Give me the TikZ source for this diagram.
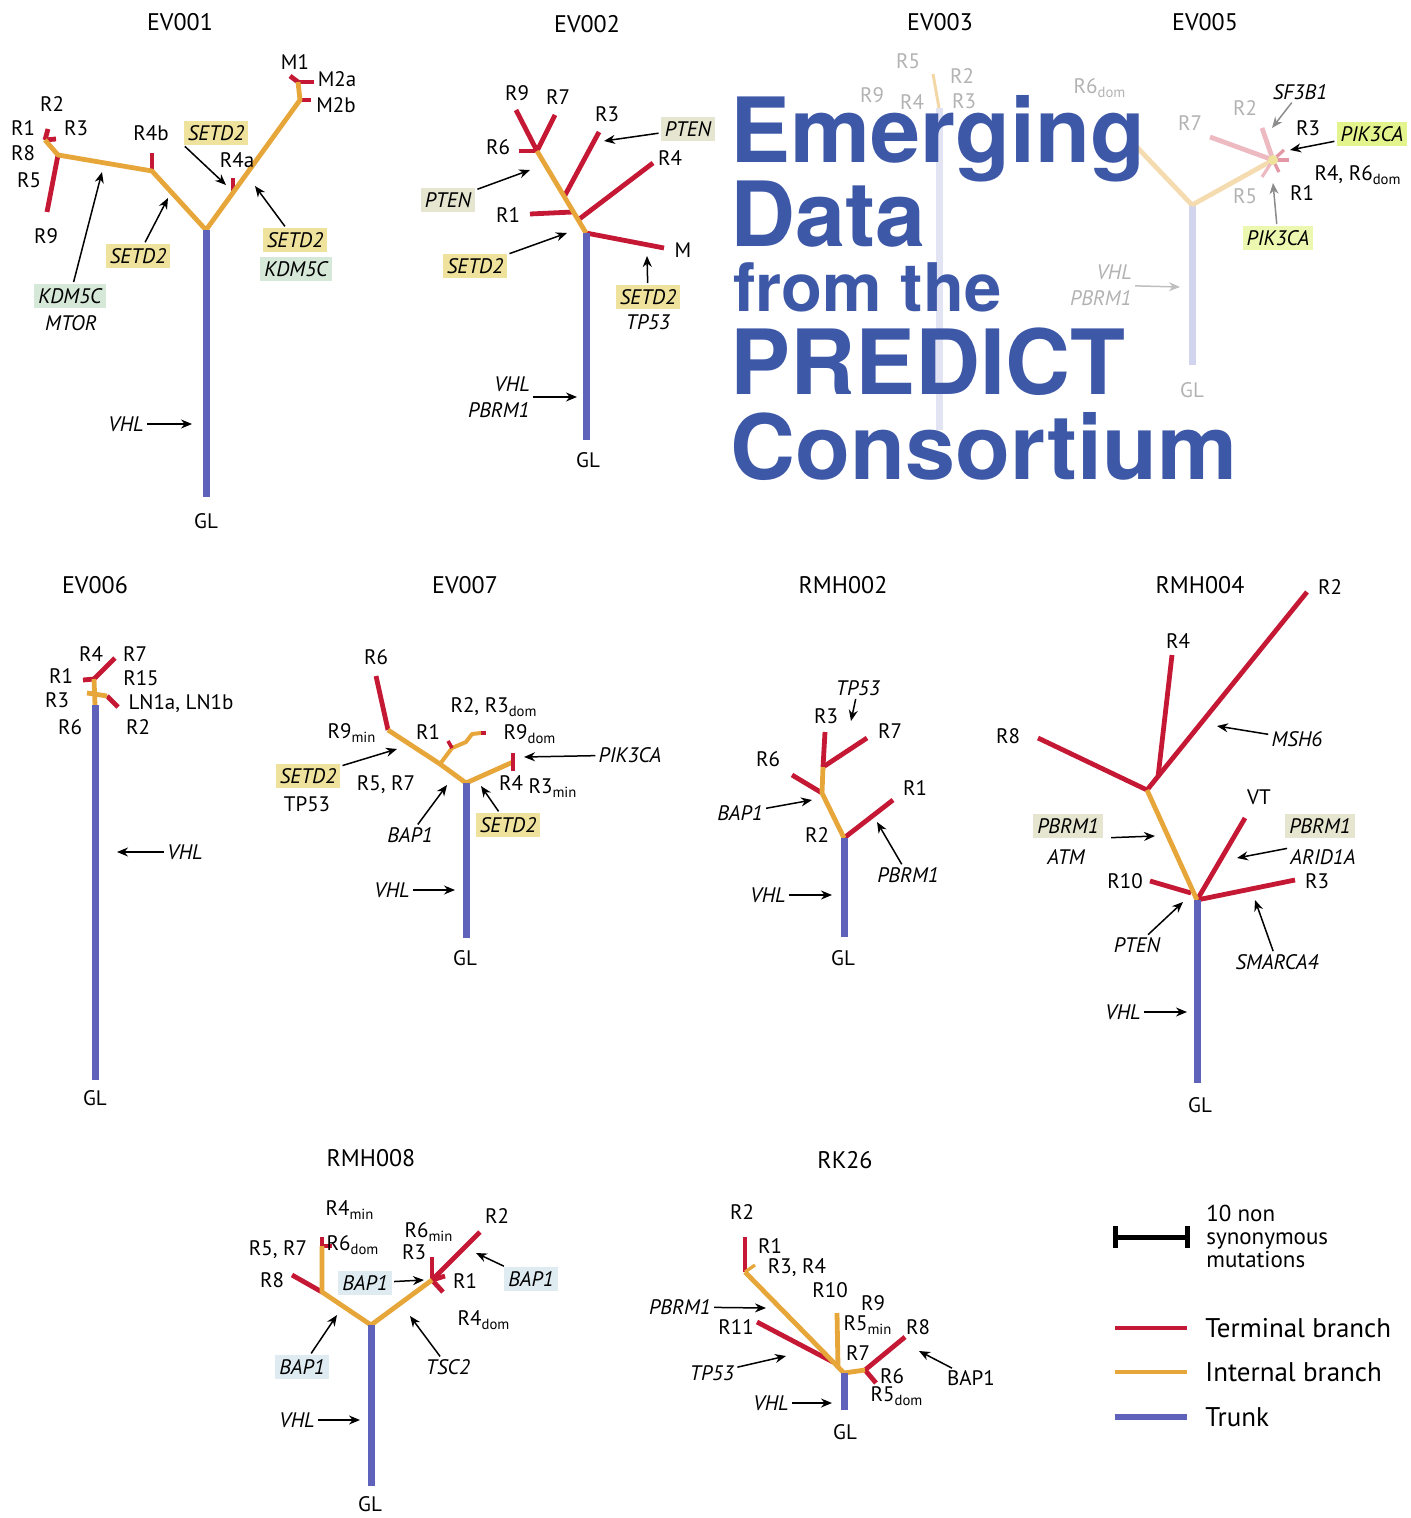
\documentclass[tikz,border=0pt]{standalone}
\usepackage{fontspec}
\setmainfont{PT Sans}
\newfontfamily\titlefont{TeX Gyre Heros}
\usetikzlibrary{arrows.meta}
\definecolor{termred}{RGB}{196,24,52}
\definecolor{intorg}{RGB}{230,166,58}
\definecolor{trunkbl}{RGB}{94,98,186}
\definecolor{titleblue}{RGB}{62,88,168}
\definecolor{hlyel}{RGB}{238,226,156}
\definecolor{hlgrn}{RGB}{214,232,216}
\definecolor{hlgry}{RGB}{230,229,208}
\definecolor{hlblu}{RGB}{222,236,242}
\definecolor{hllime}{RGB}{228,244,140}
\newcommand\lsub[1]{\textsubscript{#1}}
\tikzset{
  term/.style={draw=termred, line width=2.4pt},
  intl/.style={draw=intorg, line width=2.4pt, line join=round},
  trk/.style={draw=trunkbl, line width=3.5pt},
  arr/.style={draw=black, line width=0.75pt, -{Stealth[length=5.5pt,width=4.5pt]}, shorten <=1pt},
  lb/.style={inner sep=0.5pt, font=\fontsize{10.5}{13}\selectfont},
  gn/.style={inner sep=0.5pt, font=\fontsize{10.5}{13}\selectfont\itshape},
  hl/.style={fill=#1, inner sep=2pt},
  ttl/.style={font=\fontsize{12}{14}\selectfont},
  fnt/.style={text=black!30},
  ttxt/.style={anchor=base west, inner sep=0pt, text=titleblue, font=\titlefont\bfseries\fontsize{45}{45}\selectfont},
  lgt/.style={anchor=west, inner sep=0pt, font=\fontsize{13.5}{15}\selectfont},
}
\begin{document}
\begin{tikzpicture}[x=0.5pt,y=-0.5pt]
\path[use as bounding box] (0,0) rectangle (1410,1518);

% ================= EV001
\node[ttl] (a-t) at (180,22) {EV001};
\coordinate (a-r) at (206,230);
\coordinate (a-b) at (206,497);
\coordinate (a-n1) at (152,171);
\coordinate (a-n2) at (58,155);
\coordinate (a-n3) at (45,140);
\coordinate (a-n4) at (300,100);
\coordinate (a-n5) at (298,82);
\coordinate (a-r9) at (47,212);
\coordinate (a-r2) at (48,129);
\coordinate (a-r3) at (56,139);
\coordinate (a-r4b) at (152,153);
\coordinate (a-n6) at (233,193);
\coordinate (a-r4a) at (233,178);
\coordinate (a-m1) at (290,76);
\coordinate (a-m2a) at (314,82);
\coordinate (a-m2b) at (311,100);
\draw[term] (a-n2) -- (a-r9);
\draw[term] (a-n3) -- (a-r2);
\draw[term] (a-n3) -- (a-r3);
\draw[term] (a-n1) -- (a-r4b);
\draw[term] (a-n6) -- (a-r4a);
\draw[term] (a-n5) -- (a-m1);
\draw[term] (a-n5) -- (a-m2a);
\draw[term] (a-n4) -- (a-m2b);
\draw[intl] (a-r) -- (a-n1) -- (a-n2) -- (a-n3);
\draw[intl] (a-r) -- (a-n4) -- (a-n5);
\draw[trk] (a-r) -- (a-b);
\node[lb] (a-lm1) at (295,62) {M1};
\node[lb] (a-lm2a) at (337,79) {M2a};
\node[lb] (a-lm2b) at (336,105) {M2b};
\node[lb] (a-l2) at (52,104) {R2};
\node[lb] (a-l1) at (23,128) {R1};
\node[lb] (a-l3) at (76,128) {R3};
\node[lb] (a-l8) at (23,153) {R8};
\node[lb] (a-l5) at (29,180) {R5};
\node[lb] (a-l9) at (46,236) {R9};
\node[lb] (a-l4b) at (151,133) {R4b};
\node[lb] (a-l4a) at (237,160) {R4a};
\node[gn,hl=hlyel] (a-g1) at (216,133) {SETD2};
\node[gn,hl=hlyel] (a-g2) at (138,256) {SETD2};
\node[gn,hl=hlgrn] (a-g3) at (70,296) {KDM5C};
\node[gn] (a-g4) at (71,323) {MTOR};
\node[gn,hl=hlyel] (a-g5) at (295,240) {SETD2};
\node[gn,hl=hlgrn] (a-g6) at (296,269) {KDM5C};
\node[gn] (a-vhl) at (126,424) {VHL};
\node[lb] (a-gl) at (206,521) {GL};
\coordinate (a-t1) at (226,185);
\coordinate (a-t2) at (168,198);
\coordinate (a-t3) at (102,172);
\coordinate (a-t4) at (255,186);
\coordinate (a-t5) at (192,424);
\draw[arr] (a-g1.south west) -- (a-t1);
\draw[arr] (a-g2) -- (a-t2);
\draw[arr] (a-g3) -- (a-t3);
\draw[arr] (a-g5) -- (a-t4);
\draw[arr] (a-vhl) -- (a-t5);

% ================= EV002
\node[ttl] (b-t) at (587,24) {EV002};
\coordinate (b-r) at (586,233);
\coordinate (b-b) at (586,440);
\coordinate (b-top) at (537,151);
\coordinate (b-i1) at (578,220);
\coordinate (b-i2) at (573,212);
\coordinate (b-i3) at (564,197);
\coordinate (b-e6) at (519,151);
\coordinate (b-e9) at (516,110);
\coordinate (b-e7) at (555,115);
\coordinate (b-e3) at (599,132);
\coordinate (b-e4) at (653,163);
\coordinate (b-e1) at (530,214);
\coordinate (b-em) at (664,248);
\draw[term] (b-top) -- (b-e6);
\draw[term] (b-top) -- (b-e9);
\draw[term] (b-top) -- (b-e7);
\draw[term] (b-i3) -- (b-e3);
\draw[term] (b-i1) -- (b-e4);
\draw[term] (b-i2) -- (b-e1);
\draw[term] (b-r) -- (b-em);
\draw[intl] (b-r) -- (b-top);
\draw[trk] (b-r) -- (b-b);
\node[lb] (b-l9) at (517,93) {R9};
\node[lb] (b-l7) at (558,97) {R7};
\node[lb] (b-l3) at (607,114) {R3};
\node[lb] (b-l6) at (498,147) {R6};
\node[lb] (b-l4) at (670,158) {R4};
\node[lb] (b-l1) at (508,215) {R1};
\node[lb] (b-lm) at (683,250) {M};
\node[gn,hl=hlgry] (b-g1) at (688,129) {PTEN};
\node[gn,hl=hlgry] (b-g2) at (448,200) {PTEN};
\node[gn,hl=hlyel] (b-g3) at (475,266) {SETD2};
\node[gn,hl=hlyel] (b-g4) at (648,297) {SETD2};
\node[gn] (b-g5) at (648,322) {TP53};
\node[gn,align=right,anchor=east] (b-vhl) at (531,397) {VHL\\PBRM1};
\node[lb] (b-gl) at (588,460) {GL};
\coordinate (b-t1) at (604,141);
\coordinate (b-t2) at (530,170);
\coordinate (b-t3) at (567,233);
\coordinate (b-t4) at (647,256);
\coordinate (b-t5) at (577,397);
\draw[arr] (b-g1) -- (b-t1);
\draw[arr] (b-g2) -- (b-t2);
\draw[arr] (b-g3) -- (b-t3);
\draw[arr] (b-g4) -- (b-t4);
\draw[arr] (b-vhl) -- (b-t5);

% ================= EV003 (faded)
\node[ttl] (c-t) at (940,22) {EV003};
\coordinate (c-r) at (939,108);
\coordinate (c-b) at (939,430);
\coordinate (c-e) at (933,74);
\draw[trk, draw=trunkbl!18] (c-r) -- (c-b);
\draw[intl, draw=intorg!45, line width=1.5pt] (c-r) -- (c-e);
\node[lb,fnt] (c-l5) at (908,61) {R5};
\node[lb,fnt] (c-l2) at (962,76) {R2};
\node[lb,fnt] (c-l9) at (872,95) {R9};
\node[lb,fnt] (c-l4) at (912,102) {R4};
\node[lb,fnt] (c-l3) at (964,101) {R3};

% ================= EV005
\node[ttl] (e-t) at (1205,22) {EV005};
\coordinate (e-r) at (1192,205);
\coordinate (e-b) at (1192,365);
\coordinate (e-l) at (1132,142);
\coordinate (e-j) at (1273,160);
\coordinate (e-e7) at (1210,137);
\coordinate (e-e2) at (1262,128);
\coordinate (e-e3) at (1284,150);
\coordinate (e-e4) at (1289,160);
\coordinate (e-e5) at (1262,177);
\coordinate (e-e1) at (1279,172);
\draw[trk, draw=trunkbl!28] (e-r) -- (e-b);
\draw[intl, draw=intorg!40] (e-r) -- (e-l);
\draw[intl, draw=intorg!40] (e-r) -- (e-j);
\draw[term, draw=termred!30] (e-j) -- (e-e7);
\draw[term, draw=termred!30] (e-j) -- (e-e2);
\draw[term, draw=termred!45, line width=1.6pt] (e-j) -- (e-e3);
\draw[term, draw=termred!45, line width=1.6pt] (e-j) -- (e-e4);
\draw[term, draw=termred!30, line width=1.6pt] (e-j) -- (e-e5);
\draw[term, draw=termred!45, line width=1.6pt] (e-j) -- (e-e1);
\fill[hlyel] (e-j) circle (5);
\node[lb,fnt] (e-l6) at (1100,88) {R6\lsub{dom}};
\node[lb,fnt] (e-l7) at (1190,123) {R7};
\node[lb,fnt] (e-l2) at (1245,108) {R2};
\node[gn] (e-g1) at (1300,92) {SF3B1};
\node[lb] (e-l3) at (1308,128) {R3};
\node[gn,hl=hllime] (e-g2) at (1372,134) {PIK3CA};
\node[lb] (e-l4) at (1358,175) {R4, R6\lsub{dom}};
\node[lb,fnt] (e-l5) at (1245,196) {R5};
\node[lb] (e-l1) at (1302,193) {R1};
\node[gn,hl=hllime!70] (e-g3) at (1278,238) {PIK3CA};
\node[gn,fnt,align=right,anchor=east] (e-vhl) at (1133,285) {VHL\\PBRM1};
\node[lb,fnt] (e-gl) at (1192,390) {GL};
\coordinate (e-t1) at (1272,128);
\coordinate (e-t2) at (1290,150);
\coordinate (e-t3) at (1273,183);
\coordinate (e-t4) at (1180,287);
\draw[arr, draw=black!45] (e-g1) -- (e-t1);
\draw[arr] (e-g2) -- (e-t2);
\draw[arr, draw=black!45] (e-g3) -- (e-t3);
\draw[arr, draw=black!25] (e-vhl) -- (e-t4);

% ================= title block
\node[ttxt] (t1) at (730,163) {Emerging};
\node[ttxt] (t2) at (730,247) {Data};
\node[ttxt, font=\titlefont\bfseries\fontsize{33.5}{33.5}\selectfont] (t3) at (733,312) {from the};
\node[ttxt] (t4) at (730,394) {PREDICT};
\node[ttxt] (t5) at (730,479) {Consortium};

% ================= EV006
\node[ttl] (f-t) at (95,585) {EV006};
\coordinate (f-r) at (95,705);
\coordinate (f-b) at (95,1080);
\coordinate (f-i) at (94,679);
\coordinate (f-j) at (94,694);
\coordinate (f-k) at (107,696);
\coordinate (f-h) at (87,693);
\coordinate (f-e1) at (83,680);
\coordinate (f-e4) at (115,658);
\coordinate (f-e2) at (118,707);
\draw[term] (f-i) -- (f-e1);
\draw[term] (f-i) -- (f-e4);
\draw[term] (f-k) -- (f-e2);
\draw[intl] (f-r) -- (f-i);
\draw[intl] (f-h) -- (f-j) -- (f-k);
\draw[trk] (f-r) -- (f-b);
\node[lb] (f-l4) at (91,654) {R4};
\node[lb] (f-l7) at (135,654) {R7};
\node[lb] (f-l1) at (61,676) {R1};
\node[lb] (f-l15) at (141,678) {R15};
\node[lb] (f-l3) at (57,700) {R3};
\node[lb] (f-ln) at (181,704) {LN1a, LN1b};
\node[lb] (f-l6) at (70,727) {R6};
\node[lb] (f-l2) at (138,727) {R2};
\node[gn] (f-vhl) at (185,852) {VHL};
\node[lb] (f-gl) at (95,1098) {GL};
\coordinate (f-t1) at (117,852);
\draw[arr] (f-vhl) -- (f-t1);

% ================= EV007
\node[ttl] (g-t) at (465,585) {EV007};
\coordinate (g-r) at (466,783);
\coordinate (g-b) at (466,938);
\coordinate (g-a) at (440,764);
\coordinate (g-c) at (388,730);
\coordinate (g-e6) at (376,676);
\coordinate (g-d1) at (452,748);
\coordinate (g-d2) at (466,742);
\coordinate (g-d3) at (472,734);
\coordinate (g-d4) at (481,733);
\coordinate (g-x1) at (448,741);
\coordinate (g-x2) at (486,733);
\coordinate (g-f) at (513,762);
\coordinate (g-f1) at (513,753);
\coordinate (g-f2) at (513,771);
\draw[term] (g-c) -- (g-e6);
\draw[intl] (g-r) -- (g-a) -- (g-c);
\draw[intl, line width=2pt] (g-a) -- (g-d1) -- (g-d2) -- (g-d3) -- (g-d4);
\draw[term, line width=1.8pt] (g-d1) -- (g-x1);
\draw[term] (g-d4) -- (g-x2);
\draw[intl] (g-r) -- (g-f);
\draw[term] (g-f1) -- (g-f2);
\draw[trk] (g-r) -- (g-b);
\node[lb] (g-l6) at (376,657) {R6};
\node[lb] (g-l9m) at (352,733) {R9\lsub{min}};
\node[lb] (g-l1) at (428,732) {R1};
\node[lb] (g-l23) at (494,707) {R2, R3\lsub{dom}};
\node[lb] (g-l9d) at (530,734) {R9\lsub{dom}};
\node[gn] (g-g1) at (630,755) {PIK3CA};
\node[lb] (g-l57) at (386,785) {R5, R7};
\node[lb] (g-l4) at (511,783) {R4};
\node[lb] (g-l3m) at (553,788) {R3\lsub{min}};
\node[gn,hl=hlyel] (g-g2) at (308,776) {SETD2};
\node[lb] (g-tp) at (307,804) {TP53};
\node[gn] (g-g3) at (410,835) {BAP1};
\node[gn,hl=hlyel] (g-g4) at (508,825) {SETD2};
\node[gn] (g-vhl) at (392,890) {VHL};
\node[lb] (g-gl) at (465,958) {GL};
\coordinate (g-t1) at (524,757);
\coordinate (g-t2) at (397,749);
\coordinate (g-t3) at (447,785);
\coordinate (g-t4) at (481,786);
\coordinate (g-t5) at (455,890);
\draw[arr] (g-g1) -- (g-t1);
\draw[arr] (g-g2) -- (g-t2);
\draw[arr] (g-g3) -- (g-t3);
\draw[arr] (g-g4) -- (g-t4);
\draw[arr] (g-vhl) -- (g-t5);

% ================= RMH002
\node[ttl] (h-t) at (843,585) {RMH002};
\coordinate (h-r) at (844,838);
\coordinate (h-b) at (844,937);
\coordinate (h-a) at (822,793);
\coordinate (h-c) at (823,767);
\coordinate (h-e6) at (792,775);
\coordinate (h-e3) at (825,732);
\coordinate (h-e7) at (867,738);
\coordinate (h-e1) at (893,800);
\draw[term] (h-a) -- (h-e6);
\draw[term] (h-c) -- (h-e3);
\draw[term] (h-c) -- (h-e7);
\draw[term] (h-r) -- (h-e1);
\draw[intl] (h-r) -- (h-a) -- (h-c);
\draw[trk] (h-r) -- (h-b);
\node[gn] (h-g1) at (858,688) {TP53};
\node[lb] (h-l3) at (826,716) {R3};
\node[lb] (h-l7) at (890,731) {R7};
\node[lb] (h-l6) at (768,759) {R6};
\node[lb] (h-l1) at (915,788) {R1};
\node[gn] (h-g2) at (740,813) {BAP1};
\node[lb] (h-l2) at (817,835) {R2};
\node[gn] (h-g3) at (908,875) {PBRM1};
\node[gn] (h-vhl) at (768,895) {VHL};
\node[lb] (h-gl) at (843,958) {GL};
\coordinate (h-t1) at (851,721);
\coordinate (h-t2) at (812,800);
\coordinate (h-t3) at (877,822);
\coordinate (h-t4) at (832,895);
\draw[arr] (h-g1) -- (h-t1);
\draw[arr] (h-g2) -- (h-t2);
\draw[arr] (h-g3) -- (h-t3);
\draw[arr] (h-vhl) -- (h-t4);

% ================= RMH004
\node[ttl] (k-t) at (1200,585) {RMH004};
\coordinate (k-r) at (1197,900);
\coordinate (k-b) at (1197,1083);
\coordinate (k-a) at (1147,790);
\coordinate (k-e8) at (1038,738);
\coordinate (k-e2) at (1307,592);
\coordinate (k-s4) at (1158,777);
\coordinate (k-e4) at (1172,655);
\coordinate (k-s10) at (1191,893);
\coordinate (k-e10) at (1150,881);
\coordinate (k-evt) at (1245,818);
\coordinate (k-e3) at (1295,880);
\draw[term] (k-a) -- (k-e8);
\draw[term] (k-a) -- (k-e2);
\draw[term] (k-s4) -- (k-e4);
\draw[term] (k-s10) -- (k-e10);
\draw[term] (k-r) -- (k-evt);
\draw[term] (k-r) -- (k-e3);
\draw[intl] (k-r) -- (k-a);
\draw[trk] (k-r) -- (k-b);
\node[lb] (k-l2) at (1330,587) {R2};
\node[lb] (k-l4) at (1178,641) {R4};
\node[lb] (k-l8) at (1008,736) {R8};
\node[gn] (k-g1) at (1297,739) {MSH6};
\node[lb] (k-lvt) at (1259,797) {VT};
\node[gn,hl=hlgry] (k-g2) at (1068,826) {PBRM1};
\node[gn] (k-g3) at (1066,857) {ATM};
\node[gn,hl=hlgry] (k-g4) at (1320,826) {PBRM1};
\node[gn] (k-g5) at (1323,857) {ARID1A};
\node[lb] (k-l10) at (1125,881) {R10};
\node[lb] (k-l3) at (1317,881) {R3};
\node[gn] (k-g6) at (1137,945) {PTEN};
\node[gn] (k-g7) at (1277,962) {SMARCA4};
\node[gn] (k-vhl) at (1123,1012) {VHL};
\node[lb] (k-gl) at (1200,1105) {GL};
\coordinate (k-t1) at (1217,726);
\coordinate (k-t2) at (1155,836);
\coordinate (k-t3) at (1237,858);
\coordinate (k-t4) at (1183,902);
\coordinate (k-t5) at (1255,900);
\coordinate (k-t6) at (1187,1012);
\draw[arr] (k-g1) -- (k-t1);
\draw[arr, shorten <=4pt] (k-g2.south east) -- (k-t2);
\draw[arr] (k-g5.north west) -- (k-t3);
\draw[arr] (k-g6) -- (k-t4);
\draw[arr] (k-g7) -- (k-t5);
\draw[arr] (k-vhl) -- (k-t6);

% ================= RMH008
\node[ttl] (m-t) at (371,1158) {RMH008};
\coordinate (m-r) at (371,1325);
\coordinate (m-b) at (371,1486);
\coordinate (m-a) at (322,1292);
\coordinate (m-c) at (322,1246);
\coordinate (m-e8) at (292,1275);
\coordinate (m-ex) at (322,1237);
\coordinate (m-ey) at (332,1246);
\coordinate (m-d) at (432,1280);
\coordinate (m-e2) at (480,1232);
\coordinate (m-e3) at (432,1257);
\coordinate (m-e1) at (445,1276);
\coordinate (m-e4) at (443,1292);
\draw[term] (m-a) -- (m-e8);
\draw[term, line width=1.8pt] (m-c) -- (m-ex);
\draw[term, line width=1.8pt] (m-c) -- (m-ey);
\draw[term] (m-d) -- (m-e2);
\draw[term] (m-d) -- (m-e3);
\draw[term] (m-d) -- (m-e1);
\draw[term] (m-d) -- (m-e4);
\draw[intl] (m-r) -- (m-a) -- (m-c);
\draw[intl] (m-r) -- (m-d);
\draw[trk] (m-r) -- (m-b);
\node[lb] (m-l4m) at (350,1210) {R4\lsub{min}};
\node[lb] (m-l6d) at (353,1245) {R6\lsub{dom}};
\node[lb] (m-l57) at (278,1250) {R5, R7};
\node[lb] (m-l8) at (272,1280) {R8};
\node[lb] (m-l6m) at (429,1232) {R6\lsub{min}};
\node[lb] (m-l3) at (414,1252) {R3};
\node[gn,hl=hlblu] (m-g1) at (365,1283) {BAP1};
\node[lb] (m-l2) at (497,1216) {R2};
\node[lb] (m-l1) at (465,1281) {R1};
\node[gn,hl=hlblu] (m-g2) at (531,1279) {BAP1};
\node[lb] (m-l4d) at (484,1320) {R4\lsub{dom}};
\node[gn,hl=hlblu] (m-g3) at (302,1367) {BAP1};
\node[gn] (m-g4) at (448,1367) {TSC2};
\node[gn] (m-vhl) at (297,1420) {VHL};
\node[lb] (m-gl) at (370,1504) {GL};
\coordinate (m-t1) at (424,1280);
\coordinate (m-t2) at (476,1253);
\coordinate (m-t3) at (337,1315);
\coordinate (m-t4) at (410,1316);
\coordinate (m-t5) at (360,1420);
\draw[arr] (m-g1) -- (m-t1);
\draw[arr] (m-g2) -- (m-t2);
\draw[arr] (m-g3) -- (m-t3);
\draw[arr] (m-g4) -- (m-t4);
\draw[arr] (m-vhl) -- (m-t5);

% ================= RK26
\node[ttl] (n-t) at (845,1160) {RK26};
\coordinate (n-r) at (844,1373);
\coordinate (n-b) at (844,1410);
\coordinate (n-a) at (745,1272);
\coordinate (n-e2) at (745,1237);
\coordinate (n-s) at (755,1265);
\coordinate (n-e11) at (757,1322);
\coordinate (n-s11) at (833,1362);
\coordinate (n-v1) at (838,1367);
\coordinate (n-v2) at (837,1313);
\coordinate (n-c) at (865,1370);
\coordinate (n-e8) at (905,1337);
\coordinate (n-e6) at (876,1383);
\draw[term] (n-a) -- (n-e2);
\draw[term] (n-s11) -- (n-e11);
\draw[term] (n-c) -- (n-e8);
\draw[term] (n-c) -- (n-e6);
\draw[intl] (n-r) -- (n-a);
\draw[intl, line width=1.6pt] (n-a) -- (n-s);
\draw[intl] (n-v1) -- (n-v2);
\draw[intl] (n-r) -- (n-c);
\draw[trk] (n-r) -- (n-b);
\node[lb] (n-l2) at (742,1212) {R2};
\node[lb] (n-l1) at (770,1246) {R1};
\node[lb] (n-l34) at (797,1268) {R3, R4};
\node[lb] (n-l10) at (830,1290) {R10};
\node[lb] (n-l9) at (873,1303) {R9};
\node[lb] (n-l5m) at (868,1325) {R5\lsub{min}};
\node[lb] (n-l8) at (918,1327) {R8};
\node[lb] (n-l7) at (858,1353) {R7};
\node[lb] (n-l11) at (736,1327) {R11};
\node[lb] (n-l6) at (892,1376) {R6};
\node[lb] (n-l5d) at (897,1396) {R5\lsub{dom}};
\node[gn] (n-g1) at (680,1307) {PBRM1};
\node[gn] (n-g2) at (712,1373) {TP53};
\node[lb] (n-g3) at (971,1378) {BAP1};
\node[gn] (n-vhl) at (771,1403) {VHL};
\node[lb] (n-gl) at (845,1432) {GL};
\coordinate (n-t1) at (766,1308);
\coordinate (n-t2) at (786,1356);
\coordinate (n-t3) at (919,1351);
\coordinate (n-t4) at (832,1403);
\draw[arr] (n-g1) -- (n-t1);
\draw[arr] (n-g2) -- (n-t2);
\draw[arr] (n-g3) -- (n-t3);
\draw[arr] (n-vhl) -- (n-t4);

% ================= legend
\coordinate (L-s1) at (1115,1237);
\coordinate (L-s2) at (1187,1237);
\coordinate (L-a1) at (1115,1226);
\coordinate (L-a2) at (1115,1248);
\coordinate (L-b1) at (1187,1226);
\coordinate (L-b2) at (1187,1248);
\draw[line width=2.5pt] (L-s1) -- (L-s2);
\draw[line width=2.5pt] (L-a1) -- (L-a2);
\draw[line width=2.5pt] (L-b1) -- (L-b2);
\node[anchor=west, inner sep=0pt, align=left, font=\fontsize{11.5}{11.5}\selectfont] (L-txt) at (1206,1236) {10 non\\synonymous\\mutations};
\coordinate (L-r1) at (1115,1328);
\coordinate (L-r2) at (1187,1328);
\coordinate (L-o1) at (1115,1372);
\coordinate (L-o2) at (1187,1372);
\coordinate (L-u1) at (1115,1417);
\coordinate (L-u2) at (1187,1417);
\draw[term] (L-r1) -- (L-r2);
\draw[intl] (L-o1) -- (L-o2);
\draw[trk, line width=2.6pt] (L-u1) -- (L-u2);
\node[lgt] (L-rt) at (1205,1328) {Terminal branch};
\node[lgt] (L-ot) at (1205,1372) {Internal branch};
\node[lgt] (L-ut) at (1205,1417) {Trunk};
\end{tikzpicture}
\end{document}
